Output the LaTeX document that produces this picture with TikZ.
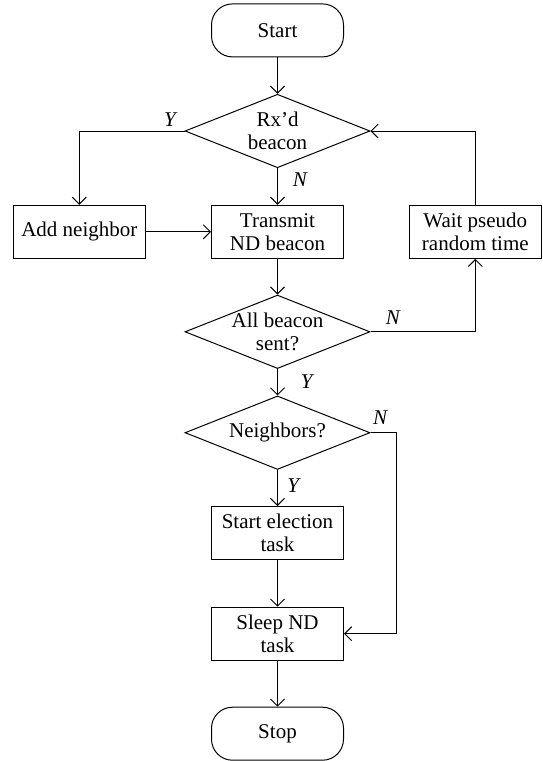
\documentclass[tikz,border=0pt]{standalone}
\usepackage{fontspec}
\setmainfont{Liberation Serif}
\usetikzlibrary{shapes.geometric,arrows.meta}
\begin{document}
\begin{tikzpicture}[x=1pt,y=-1pt,
  font=\fontsize{21}{22.8}\selectfont,
  line width=1pt,
  box/.style={draw, rectangle, minimum width=132pt, minimum height=53pt, inner sep=0pt, align=center},
  term/.style={box, rounded corners=21pt},
  dec/.style={draw, diamond, minimum width=185pt, minimum height=73.5pt, inner sep=0pt},
  dtext/.style={align=center, inner sep=0pt},
  lab/.style={font=\fontsize{21}{22}\selectfont\itshape, inner sep=0pt},
  arr/.style={-{Straight Barb[length=7pt,width=14pt,line width=1pt]}}]
\useasboundingbox (0,0) rectangle (542,761);
% nodes
\node[term] (start) at (277.5,30.4) {Start};
\node[dec]  (d1)    at (277.5,131)  {};
\node[dtext] (d1t)  at (277.5,131)  {Rx’d\\beacon};
\node[box]  (add)   at (79.3,231.8) {Add neighbor};
\node[box]  (tx)    at (277.5,231.8) {Transmit\\ND beacon};
\node[box]  (wait)  at (475.3,231.8) {Wait pseudo\\random time};
\node[dec]  (d2)    at (277.5,331.8) {};
\node[dtext] (d2t)  at (277.5,331.8) {All beacon\\sent?};
\node[dec]  (d3)    at (277.5,432.7) {};
\node[dtext] (d3t)  at (277.5,432.7) {Neighbors?};
\node[box]  (elec)  at (277.5,533)   {Start election\\task};
\node[box]  (sleep) at (277.5,633.7) {Sleep ND\\task};
\node[term] (stop)  at (277.5,733.7) {Stop};
\coordinate (nr) at (396.7,432.7);
% labels
\node[lab] (ly1) at (170,119.3) {Y};
\node[lab] (ln1) at (300,180) {N};
\node[lab] (ln2) at (393,318) {N};
\node[lab] (ly2) at (306.7,381.7) {Y};
\node[lab] (ln3) at (380,418) {N};
\node[lab] (ly3) at (293.3,486) {Y};
% connectors
\draw[arr] (start.south) -- (d1.north);
\draw[arr] (d1.west) -| (add.north);
\draw[arr] (d1.south) -- (tx.north);
\draw[arr] (add.east) -- (tx.west);
\draw[arr] (wait.north) |- (d1.east);
\draw[arr] (tx.south) -- (d2.north);
\draw[arr] (d2.east) -| (wait.south);
\draw[arr] (d2.south) -- (d3.north);
\draw[arr] (d3.east) -- (nr) |- (sleep.east);
\draw[arr] (d3.south) -- (elec.north);
\draw[arr] (elec.south) -- (sleep.north);
\draw[arr] (sleep.south) -- (stop.north);
\end{tikzpicture}
\end{document}
